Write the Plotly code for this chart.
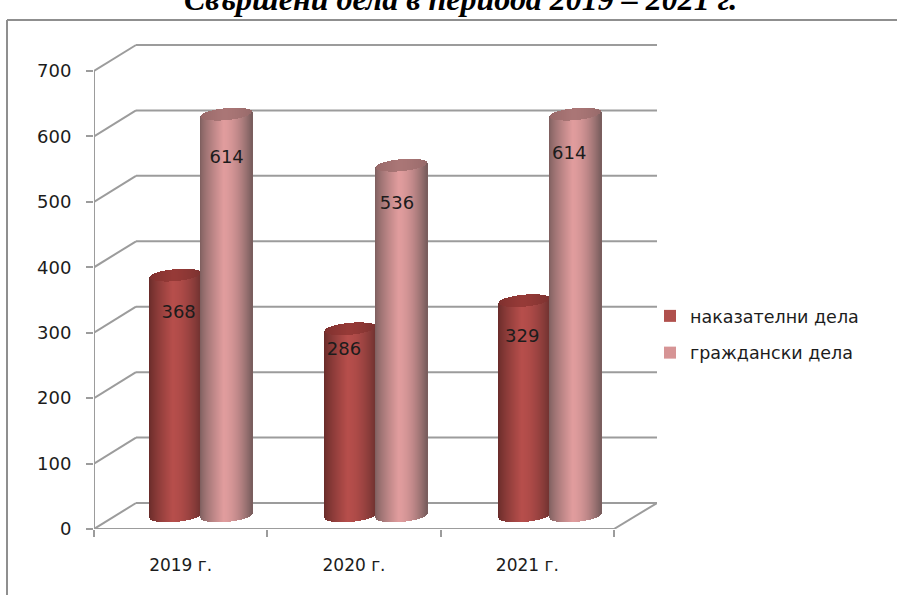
import math
import plotly.graph_objects as go

# ---- data ----
categories = ["2019 г.", "2020 г.", "2021 г."]
criminal_cases = [368, 286, 329]
civil_cases = [614, 536, 614]
series_names = ["наказателни дела", "граждански дела"]
y_ticks = [0, 100, 200, 300, 400, 500, 600, 700]
title_text = "Свършени дела в периода 2019 – 2021 г."

# ---- page geometry (pixels) ----
W, H = 897, 595
L, R, T, B = 94, 657, 44, 529
PX_X = 520 / 3          # pixels per category
PX_Y = 458 / 700        # pixels per value unit
DX = 42 / PX_X          # depth of the floor, in axis units
DY = 26 / PX_Y
x_range = [0.5, 0.5 + (R - L) / PX_X]
y_range = [0, (B - T) / PX_Y]
GRID = "#9c9c9c"
TEXT = "#1c1c1c"

cyl_half = 25.5 / PX_X
cyl_b = 6 / PX_Y
cyl_tilt = 2.2 / PX_Y
base_lift = 20
cyl_shift = 0.118
group_nudge = [0, 1.5 / PX_X, 2.5 / PX_X]


def mix(c1, c2, t):
    return "rgb(%d,%d,%d)" % tuple(round(a + (b - a) * t) for a, b in zip(c1, c2))


def shade(edge_l, peak, edge_r, u):
    # u in 0..1 across the cylinder; highlight at 45 %
    if u < 0.45:
        t = u / 0.45
        return mix(edge_l, peak, t ** 0.8)
    t = (u - 0.45) / 0.55
    return mix(peak, edge_r, t ** 1.7)


styles = [
    dict(vals=criminal_cases, off=-cyl_half,
         side=((106, 44, 42), (182, 78, 75), (112, 50, 48)),
         cap=((125, 48, 46), (150, 58, 55), (122, 50, 48))),
    dict(vals=civil_cases, off=cyl_half,
         side=((128, 96, 96), (224, 156, 157), (122, 94, 94)),
         cap=((150, 104, 104), (170, 118, 118), (150, 106, 106))),
]

fig = go.Figure()

# side walls, floor edges and the two axes
gx, gy = [], []
for v in y_ticks:
    gx += [0.5, 0.5 + DX, None]
    gy += [v, v + DY, None]
gx += [3.5, x_range[1], None, 0.5, 3.5, None, 0.5, 0.5]
gy += [0, DY, None, 0, 0, None, 0, 700]
fig.add_trace(go.Scatter(x=gx, y=gy, mode="lines", showlegend=False, hoverinfo="skip",
                         line=dict(color=GRID, width=2), cliponaxis=False))

# back wall lines sit behind the cylinders
back_lines = [dict(type="line", xref="x", yref="y", layer="below",
                   x0=0.5 + DX, x1=x_range[1], y0=v + DY, y1=v + DY,
                   line=dict(color=GRID, width=2)) for v in y_ticks]

# cylinders: each is built from narrow bars placed on the value axis
step = 1.0 / PX_X
for st in styles:
    xs, heights, bases, colors = [], [], [], []
    for i, v in enumerate(st["vals"]):
        cx = i + 1 + cyl_shift + st["off"] + group_nudge[i]
        n = int(round(2 * cyl_half / step))
        for k in range(n + 1):
            u = k / n
            s = 2 * u - 1
            curve = cyl_b * math.sqrt(max(0, 1 - s * s))
            lean = cyl_tilt * s
            x = cx + s * cyl_half
            # body
            xs.append(x)
            bases.append(base_lift + lean - curve)
            heights.append(v)
            colors.append(shade(*st["side"], u))
            # cap
            xs.append(x)
            bases.append(v + base_lift + lean - curve)
            heights.append(2 * curve)
            colors.append(shade(*st["cap"], u))
    fig.add_trace(go.Bar(x=xs, y=heights, base=bases, width=[1.6 / PX_X] * len(xs),
                         marker=dict(color=colors, line=dict(width=0)),
                         showlegend=False, hoverinfo="skip"))

# value labels
label_nudge_x = [[3, -5, 0], [0, -3, -4]]
label_nudge_y = [[-59, -33, -56], [-67, -60, -61]]
for s, st in enumerate(styles):
    fig.add_trace(go.Scatter(
        x=[i + 1 + cyl_shift + st["off"] + label_nudge_x[s][i] / PX_X for i in range(3)],
        y=[v + base_lift + label_nudge_y[s][i] for i, v in enumerate(st["vals"])],
        text=[str(v) for v in st["vals"]],
        mode="text", textposition="middle center",
        textfont=dict(family="DejaVu Sans", size=18, color=TEXT),
        showlegend=False, hoverinfo="skip", cliponaxis=False))

# legend entries
for name, col in zip(series_names, ["#b0504d", "#d69495"]):
    fig.add_trace(go.Scatter(x=[None], y=[None], mode="markers", name=name, legendgroup=name,
                             marker=dict(symbol="square", size=12, color=col)))

fig.update_layout(
    width=W, height=H, autosize=False,
    margin=dict(l=L, r=W - R, t=T, b=H - B, pad=0),
    paper_bgcolor="white", plot_bgcolor="white",
    barmode="overlay", bargap=0, showlegend=True,
    legend=dict(x=(650 - L) / (R - L), xref="paper", xanchor="left",
                y=(B - 298) / (B - T), yanchor="top",
                font=dict(family="DejaVu Sans", size=17.5, color=TEXT),
                tracegroupgap=11, bgcolor="rgba(0,0,0,0)", borderwidth=0),
    xaxis=dict(range=x_range, showgrid=False, zeroline=False, showline=False,
               tickmode="array", tickvals=[1, 2, 3], ticktext=categories,
               ticks="", ticklabelstandoff=24,
               tickfont=dict(family="DejaVu Sans", size=17, color=TEXT),
               minor=dict(tickmode="array", tickvals=[0.5, 1.5, 2.5, 3.5], ticks="outside",
                          ticklen=7, tickwidth=2, tickcolor=GRID)),
    yaxis=dict(range=y_range, showgrid=False, zeroline=False, showline=False,
               tickmode="array", tickvals=y_ticks, ticks="outside", ticklen=7,
               tickwidth=2, tickcolor=GRID, ticklabelstandoff=11,
               tickfont=dict(family="DejaVu Sans", size=18, color=TEXT)),
    shapes=back_lines + [
        dict(type="line", xref="paper", yref="paper",
             x0=(7 - L) / (R - L), x1=(7 - L) / (R - L),
             y0=(B - 20) / (B - T), y1=(B - 600) / (B - T),
             line=dict(color="#8f8f8f", width=2)),
        dict(type="line", xref="paper", yref="paper",
             x0=(7 - L) / (R - L), x1=(900 - L) / (R - L),
             y0=(B - 20) / (B - T), y1=(B - 20) / (B - T),
             line=dict(color="#8f8f8f", width=2))],
    annotations=[dict(text="<b><i>" + title_text + "</i></b>", xref="paper", yref="paper",
                      x=(460 - L) / (R - L), y=(B - 19.5) / (B - T), xanchor="center", yanchor="bottom",
                      showarrow=False,
                      font=dict(family="Liberation Serif", size=32, color="#000000"))],
)

fig.write_html("out.html", config={"displayModeBar": False},
               post_script="document.body.style.margin='0';document.body.style.overflow='hidden';")
